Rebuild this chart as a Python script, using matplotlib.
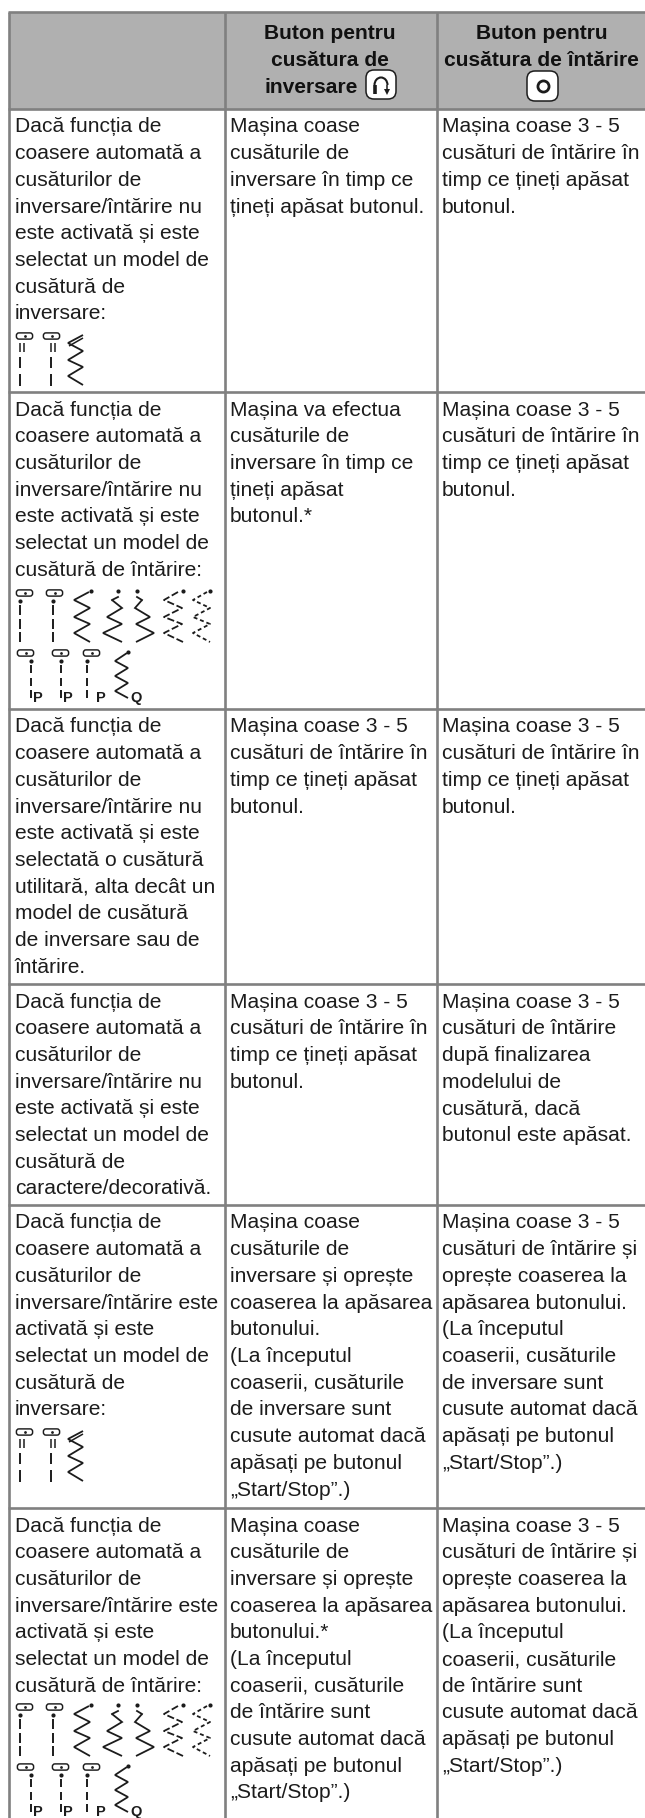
import matplotlib
matplotlib.use('Agg')
import matplotlib.pyplot as plt
from matplotlib.patches import Arc, FancyBboxPatch, Rectangle

plt.rcParams['font.family'] = ['Liberation Sans', 'DejaVu Sans']

col_lines = [9, 225, 437]
row_lines = [12, 109, 392, 709, 984, 1205, 1508]
text_x = [15, 230, 442]
LINE_H = 26.7
FS = 15.1
GRID = '#808080'
HEADER = '#b0b0b0'
INK = '#1c1c1c'

header_1 = ['Buton pentru', 'cusătura de']
header_2 = ['Buton pentru', 'cusătura de întărire']

col_a = [
    ['Dacă funcția de', 'coasere automată a', 'cusăturilor de', 'inversare/întărire nu',
     'este activată și este', 'selectat un model de', 'cusătură de', 'inversare:'],
    ['Dacă funcția de', 'coasere automată a', 'cusăturilor de', 'inversare/întărire nu',
     'este activată și este', 'selectat un model de', 'cusătură de întărire:'],
    ['Dacă funcția de', 'coasere automată a', 'cusăturilor de', 'inversare/întărire nu',
     'este activată și este', 'selectată o cusătură', 'utilitară, alta decât un',
     'model de cusătură', 'de inversare sau de', 'întărire.'],
    ['Dacă funcția de', 'coasere automată a', 'cusăturilor de', 'inversare/întărire nu',
     'este activată și este', 'selectat un model de', 'cusătură de', 'caractere/decorativă.'],
    ['Dacă funcția de', 'coasere automată a', 'cusăturilor de', 'inversare/întărire este',
     'activată și este', 'selectat un model de', 'cusătură de', 'inversare:'],
    ['Dacă funcția de', 'coasere automată a', 'cusăturilor de', 'inversare/întărire este',
     'activată și este', 'selectat un model de', 'cusătură de întărire:'],
]
col_b = [
    ['Mașina coase', 'cusăturile de', 'inversare în timp ce', 'țineți apăsat butonul.'],
    ['Mașina va efectua', 'cusăturile de', 'inversare în timp ce', 'țineți apăsat', 'butonul.*'],
    ['Mașina coase 3 - 5', 'cusături de întărire în', 'timp ce țineți apăsat', 'butonul.'],
    ['Mașina coase 3 - 5', 'cusături de întărire în', 'timp ce țineți apăsat', 'butonul.'],
    ['Mașina coase', 'cusăturile de', 'inversare și oprește', 'coaserea la apăsarea', 'butonului.',
     '(La începutul', 'coaserii, cusăturile', 'de inversare sunt', 'cusute automat dacă',
     'apăsați pe butonul', '„Start/Stop”.)'],
    ['Mașina coase', 'cusăturile de', 'inversare și oprește', 'coaserea la apăsarea', 'butonului.*',
     '(La începutul', 'coaserii, cusăturile', 'de întărire sunt', 'cusute automat dacă',
     'apăsați pe butonul', '„Start/Stop”.)'],
]
col_c = [
    ['Mașina coase 3 - 5', 'cusături de întărire în', 'timp ce țineți apăsat', 'butonul.'],
    ['Mașina coase 3 - 5', 'cusături de întărire în', 'timp ce țineți apăsat', 'butonul.'],
    ['Mașina coase 3 - 5', 'cusături de întărire în', 'timp ce țineți apăsat', 'butonul.'],
    ['Mașina coase 3 - 5', 'cusături de întărire', 'după finalizarea', 'modelului de',
     'cusătură, dacă', 'butonul este apăsat.'],
    ['Mașina coase 3 - 5', 'cusături de întărire și', 'oprește coaserea la', 'apăsarea butonului.',
     '(La începutul', 'coaserii, cusăturile', 'de inversare sunt', 'cusute automat dacă',
     'apăsați pe butonul', '„Start/Stop”.)'],
    ['Mașina coase 3 - 5', 'cusături de întărire și', 'oprește coaserea la', 'apăsarea butonului.',
     '(La începutul', 'coaserii, cusăturile', 'de întărire sunt', 'cusute automat dacă',
     'apăsați pe butonul', '„Start/Stop”.)'],
]

# stitch glyph shapes, y given relative to the oval line of the group
zig_y = [-1, 7, 15, 24, 31, 40, 49]
zig_plain_x = [83, 68, 83, 68, 83, 68, 83]
zig_a_x = [89, 74, 90, 74, 90, 74, 90]
zig_b_x = [118, 112, 122, 107, 122, 103, 122]
zig_c_x = [137, 142, 135, 150, 136, 154, 136]
zig_d_x = [178, 164, 182, 164, 182, 164, 183]
zig_e_x = [207, 193, 210, 193, 210, 193, 210]
zig_f_x = [127, 115, 128, 115, 128, 115, 128]
zig_f_y = [0, 8, 15, 23, 30, 38, 45]
p_labels = ['P', 'P', 'P', 'Q']
p_x = [38, 68, 101, 136]


def oval(ax, x, y, w=17, h=6):
    ax.add_patch(FancyBboxPatch((x + 3, y - 0.5), w - 6, 1, boxstyle='round,pad=2.6,rounding_size=2.6',
                                fc='white', ec=INK, lw=1.05, zorder=4))
    ax.plot([x + w * 0.55], [y], 'o', ms=2, mew=0, color=INK, zorder=5)


def stem(ax, x, y, n=3, step=13.5, length=10):
    ax.plot([x], [y + 8], 'o', ms=3, mew=0, color=INK)
    for i in range(n):
        ax.plot([x, x], [y + 12 + i * step, y + 12 + i * step + length], color=INK, lw=1.4, solid_capstyle='butt')


def double_stem(ax, x, y):
    for dx in [0, 4]:
        ax.plot([x + dx, x + dx], [y + 7, y + 16], color=INK, lw=1.1, solid_capstyle='butt')
    ax.plot([x, x], [y + 21, y + 32], color=INK, lw=1.4, solid_capstyle='butt')
    ax.plot([x, x], [y + 38, y + 50], color=INK, lw=1.4, solid_capstyle='butt')


def zigzag(ax, xs, ys, y, style='-'):
    ax.plot(xs, [y + v for v in ys], color=INK, lw=1.3, ls=style, solid_joinstyle='miter', solid_capstyle='butt')


def plain_group(ax, y):
    oval(ax, 16, y)
    oval(ax, 43, y)
    double_stem(ax, 20, y)
    double_stem(ax, 51, y)
    zigzag(ax, zig_plain_x, zig_y, y)
    ax.plot([83, 69], [y + 2, y + 10], color=INK, lw=1.1, solid_capstyle='butt')


def reinforce_group(ax, y):
    # first line of glyphs
    oval(ax, 16, y)
    oval(ax, 46, y)
    stem(ax, 20, y)
    stem(ax, 53, y)
    for x in [91, 118, 137, 183, 210]:
        ax.plot([x], [y - 2], 'o', ms=3, mew=0, color=INK)
    zigzag(ax, zig_a_x, zig_y, y)
    zigzag(ax, zig_b_x[1:], zig_y[1:], y)
    zigzag(ax, zig_c_x[1:], zig_y[1:], y)
    ax.plot([118, 112], [y + 4, y + 7], color=INK, lw=1.3)
    ax.plot([137, 142], [y + 4, y + 7], color=INK, lw=1.3)
    zigzag(ax, zig_d_x, zig_y, y, style=(0, (4, 1.5)))
    zigzag(ax, zig_e_x, zig_y, y, style=(0, (2.2, 1.6)))
    # second line of glyphs
    y2 = y + 60
    for x, sx in [(17, 31), (52, 61), (83, 87)]:
        oval(ax, x, y2)
        stem(ax, sx, y2, step=12.5, length=8)
    zigzag(ax, zig_f_x, zig_f_y, y2)
    ax.plot([128], [y2 - 1], 'o', ms=3, mew=0, color=INK)
    for x, lab in zip(p_x, p_labels):
        ax.text(x, y2 + 49, lab, fontsize=10.5, fontweight='bold', color=INK, ha='center', va='baseline')


def button(ax, x0, x1, y0, y1):
    ax.add_patch(FancyBboxPatch((x0 + 8, y0 + 8), x1 - x0 - 16, y1 - y0 - 16, boxstyle='round,pad=8,rounding_size=8',
                                fc='white', ec=INK, lw=1.1, zorder=4))


fig = plt.figure(figsize=(6.45, 18.18), dpi=100)
ax = fig.add_axes([0, 0, 1, 1])
ax.set_xlim(0, 645)
ax.set_ylim(1818, 0)
ax.axis('off')

ax.add_patch(Rectangle((col_lines[0], row_lines[0]), 645 - col_lines[0], row_lines[1] - row_lines[0], fc=HEADER, ec='none'))
for y in row_lines:
    ax.plot([col_lines[0] - 1, 645], [y, y], color=GRID, lw=1.9, solid_capstyle='butt', zorder=3)
for x in col_lines:
    ax.plot([x, x], [row_lines[0], 1818], color=GRID, lw=1.9, solid_capstyle='butt', zorder=3)

for i, line in enumerate(header_1):
    ax.text(330, 39 + i * 27, line, fontsize=FS, fontweight='bold', color='#111111', ha='center', va='baseline')
for i, line in enumerate(header_2):
    ax.text(541.5, 39 + i * 27, line, fontsize=FS, fontweight='bold', color='#111111', ha='center', va='baseline')
ax.text(264, 93, 'inversare', fontsize=FS, fontweight='bold', color='#111111', ha='left', va='baseline')

# reverse stitch and reinforcement buttons
button(ax, 366, 396, 70, 99)
button(ax, 527, 558, 71, 101)
ax.add_patch(Arc((381, 85), 13, 15, theta1=180, theta2=360, color=INK, lw=1.5, zorder=5))
ax.plot([375, 375], [85, 94], color=INK, lw=2.6, solid_capstyle='butt', zorder=5)
ax.plot([387, 387], [85, 91], color=INK, lw=1.1, solid_capstyle='butt', zorder=5)
ax.plot([387], [92], 'v', ms=3.8, mew=0, color=INK, zorder=5)
ax.plot([542.5], [86], 'o', ms=8, mfc='white', mec=INK, mew=2, zorder=5)

for col, x in zip([col_a, col_b, col_c], text_x):
    for r, cell in enumerate(col):
        base = row_lines[r + 1] + 23.5
        for i, line in enumerate(cell):
            ax.text(x, base + i * LINE_H, line, fontsize=FS, color=INK, ha='left', va='baseline')

plain_group(ax, 336)
reinforce_group(ax, 593)
plain_group(ax, 1432)
reinforce_group(ax, 1707)

fig.savefig('out.png', dpi=100, facecolor='white')
